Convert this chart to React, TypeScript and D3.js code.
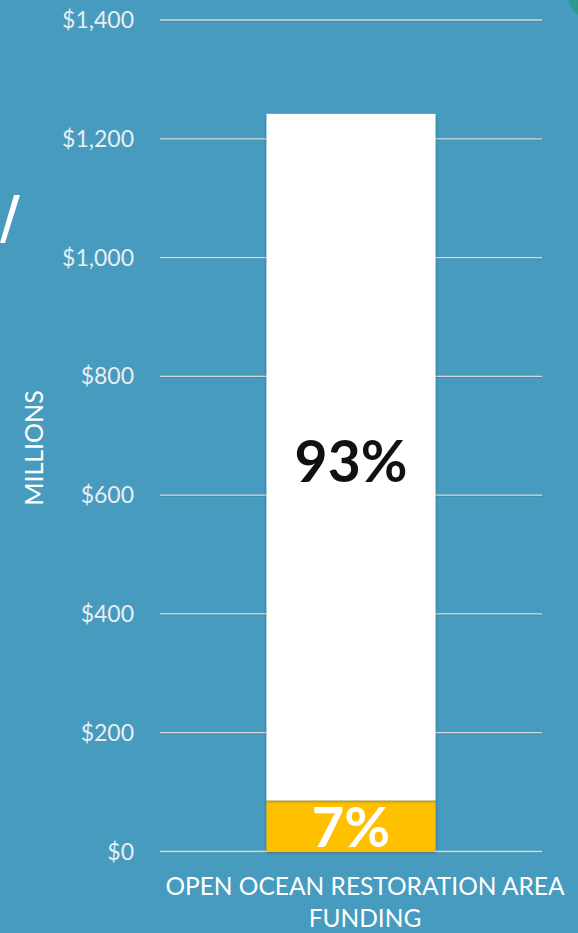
import React from "react";
import * as d3 from "d3";

const categories = ["OPEN OCEAN RESTORATION AREA FUNDING"];
const seriesNames = ["Allocated", "Remaining"];
const yellowValues = [86];
const whiteValues = [1156];
const pctLabels = ["7%", "93%"];
const yTicks = [0, 200, 400, 600, 800, 1000, 1200, 1400];
const yAxisTitle = "MILLIONS";

const W = 578;
const H = 933;
const FONT = "Lato, 'Open Sans', sans-serif";

export default function App() {
  const y = d3.scaleLinear().domain([0, 1400]).range([851.5, 20]);
  const x = d3.scaleBand().domain(categories).range([160, 542]).paddingInner(0).paddingOuter(0.63);
  const fmt = (v: number) => "$" + d3.format(",")(v);

  const stacked = d3.stack<any>().keys(seriesNames)(
    categories.map((c, i) => ({ cat: c, Allocated: yellowValues[i], Remaining: whiteValues[i] }))
  );
  const colors = ["#FFC000", "#FFFFFF"];
  const bw = x.bandwidth();

  return (
    <div style={{ position: "absolute", left: 0, top: 0, width: W, height: H }}>
      <svg width={W} height={H} style={{ display: "block" }}>
        <defs>
          <filter id="sh" x="-10%" y="-10%" width="120%" height="120%">
            <feDropShadow dx="0" dy="1" stdDeviation="1.5" floodColor="#000" floodOpacity="0.35" />
          </filter>
        </defs>
        <rect width={W} height={H} fill="#469BBF" />
        {/* slide decorations */}
        <circle cx={590} cy={-4} r={22} fill="#2E9A8E" />
        <path d="M0,243 L5,243 L20,195 L14,195 Z" fill="#FFFFFF" />
        {yTicks.map((t) => (
          <g key={t}>
            <line x1={160} x2={542} y1={y(t) + 1} y2={y(t) + 1} stroke="#3A7F9C" strokeWidth={1} opacity={0.7} />
            <line x1={160} x2={542} y1={y(t)} y2={y(t)} stroke="#D9D9D9" strokeWidth={1.3} />
            <text x={134} y={y(t)} dy="0.35em" textAnchor="end" fill="#E6EEF2" fontFamily={FONT} fontSize={23}>
              {fmt(t)}
            </text>
          </g>
        ))}
        <text
          transform={`translate(43,448) rotate(-90)`}
          textAnchor="middle"
          fill="#FFFFFF"
          fontFamily={FONT}
          fontSize={25}
        >
          {yAxisTitle}
        </text>
        {stacked.map((s, si) =>
          s.map((d, i) => (
            <rect
              key={si + "-" + i}
              x={x(categories[i])}
              width={bw}
              y={y(d[1])}
              height={y(d[0]) - y(d[1])}
              fill={colors[si]}
              filter="url(#sh)"
            />
          ))
        )}
        {stacked.map((s, si) =>
          s.map((d, i) => {
            const cx = (x(categories[i]) as number) + bw / 2;
            return si === 0 ? (
              <text key={"l" + si} x={cx} y={847} textAnchor="middle" fill="#FFFFFF" fontFamily={FONT} fontWeight={700} fontSize={56}>
                {pctLabels[si]}
              </text>
            ) : (
              <text key={"l" + si} x={cx} y={482} textAnchor="middle" fill="#111111" fontFamily={FONT} fontWeight={700} fontSize={57}>
                {pctLabels[si]}
              </text>
            );
          })
        )}
        <text x={365} y={895} textAnchor="middle" fill="#FFFFFF" fontFamily={FONT} fontSize={24.5}>
          OPEN OCEAN RESTORATION AREA
        </text>
        <text x={365} y={927} textAnchor="middle" fill="#FFFFFF" fontFamily={FONT} fontSize={24.5}>
          FUNDING
        </text>
      </svg>
    </div>
  );
}
